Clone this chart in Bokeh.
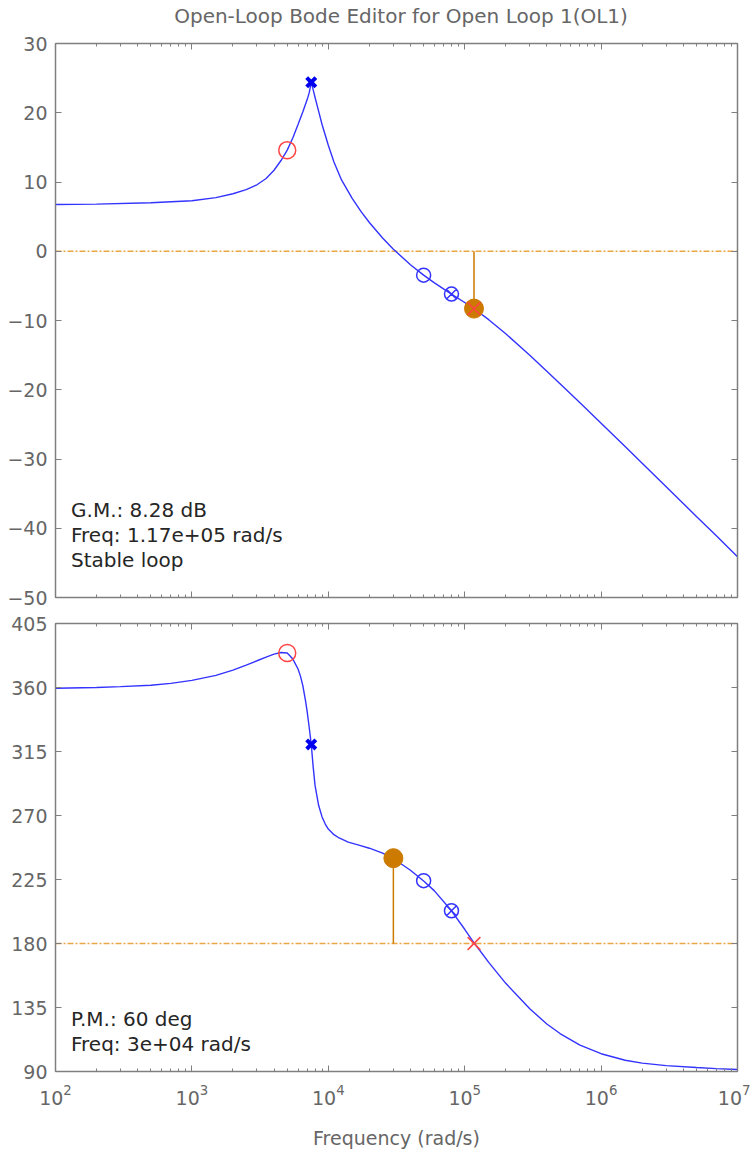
from bokeh.plotting import figure
from bokeh.layouts import column
from bokeh.models import (Range1d, LogAxis, LinearAxis, FixedTicker, LogTicker, Label,
                          CustomJSTickFormatter)
from bokeh.core.properties import value
from bokeh.embed import file_html
from bokeh.resources import INLINE

# ---------------- data ----------------
freq_mag = [1e2, 2e2, 5e2, 1e3, 1.5e3, 2e3, 2.5e3, 3e3, 3.5e3, 4e3, 4.5e3, 5e3, 5.5e3, 6e3, 6.5e3,
            7e3, 7.25e3, 7.5e3, 7.75e3, 8e3, 8.5e3, 9e3, 1e4, 1.1e4, 1.25e4, 1.5e4, 1.75e4, 2e4,
            2.5e4, 3e4, 4e4, 5e4, 6e4, 8e4, 1e5, 1.17e5, 1.5e5, 2e5, 3e5, 4e5, 5e5, 7e5, 1e6, 1.5e6,
            2e6, 3e6, 5e6, 7e6, 1e7]
mag_db = [6.75, 6.8, 7.0, 7.3, 7.75, 8.3, 8.9, 9.6, 10.5, 11.7, 13.1, 14.6, 16.4, 18.3, 20.1,
          21.9, 22.9, 24.4, 23.3, 22.2, 20.2, 18.3, 15.3, 12.9, 10.3, 7.6, 5.66, 4.15,
          1.92, 0.3, -1.95, -3.45, -4.56, -6.19, -7.4, -8.3, -9.88, -11.92, -15.02, -17.32, -19.13,
          -21.89, -24.83, -28.2, -30.6, -34.0, -38.3, -41.1, -44.1]

freq_ph = [1e2, 2e2, 3e2, 5e2, 7e2, 1e3, 1.5e3, 2e3, 2.5e3, 3e3, 3.5e3, 4e3, 4.5e3, 5e3, 5.5e3, 6e3,
           6.25e3, 6.5e3, 6.8e3, 7e3, 7.2e3, 7.5e3, 7.75e3, 8e3, 8.5e3, 9e3, 9.5e3, 1e4, 1.1e4, 1.2e4,
           1.4e4, 1.7e4, 2e4, 2.5e4, 3e4, 4e4, 5e4, 6e4, 8e4, 1e5, 1.17e5, 1.5e5, 2e5, 3e5, 4e5, 5e5,
           7e5, 1e6, 1.5e6, 2e6, 3e6, 5e6, 7e6, 1e7]
phase_deg = [359.5, 360, 360.6, 361.6, 362.9, 365, 368.5, 372.2, 375.8, 378.8, 381.4, 383.5, 384.6,
             384.3, 380, 373, 368, 361.5, 351, 343, 334, 320, 304, 291, 277, 269, 264, 260.5, 256.5,
             254.2, 251.3, 249, 247, 243.5, 239.8, 231.5, 224, 217, 203, 190, 180.5, 166.7, 152,
             134.1, 123.4, 116.7, 108.5, 102.5, 97.9, 95.9, 94.1, 92.8, 92.0, 91.4]

# markers
cz_freq, cz_mag, cz_ph = [5e3], [14.6], [384.2]          # red circles (complex zeros)
cp_freq, cp_mag, cp_ph = [7.5e3], [24.4], [320]           # blue x (complex poles)
rz1_freq, rz1_mag, rz1_ph = [5e4], [-3.45], [224.2]       # blue circle
rz2_freq, rz2_mag, rz2_ph = [8e4], [-6.19], [203]         # blue circle with cross
gm_freq, gm_db = 1.17e5, -8.28
pm_freq, pm_phase = 3e4, 240.0

y1_ticks = [-50, -40, -30, -20, -10, 0, 10, 20, 30]
y2_ticks = [90, 135, 180, 225, 270, 315, 360, 405]

TITLE = "Open-Loop Bode Editor for Open Loop 1(OL1)"

FONT = "DejaVu Sans"
AX_COL = "#7f7f7f"
LBL_COL = "#666666"
BLUE = "#3333ff"
ORANGE = "#cc7a00"
ORANGE_L = "#eaa844"
RED = "#ff4444"

xr = Range1d(1e2, 1e7)


def style_axis(ax, labels=True):
    ax.axis_line_color = AX_COL
    ax.axis_line_width = 1.5
    ax.major_tick_line_color = AX_COL
    ax.minor_tick_line_color = AX_COL
    ax.major_tick_in = 6
    ax.major_tick_out = 0
    ax.minor_tick_in = 3
    ax.minor_tick_out = 0
    ax.major_label_text_font = FONT
    ax.major_label_text_font_size = "19px"
    ax.major_label_text_color = LBL_COL
    if not labels:
        ax.formatter = CustomJSTickFormatter(code="return ''")
        ax.major_label_standoff = 0


def make_fig(yr, yticks, height, top, bottom, xlabels):
    p = figure(width=750, height=height, x_axis_type="log", x_range=xr, y_range=yr,
               output_backend="svg", toolbar_location=None,
               min_border_left=55, min_border_right=13, min_border_top=top, min_border_bottom=bottom,
               x_axis_location=None, y_axis_location=None)
    p.grid.visible = False
    p.outline_line_color = None
    p.background_fill_color = "white"
    bx = LogAxis(ticker=LogTicker(num_minor_ticks=10))
    style_axis(bx, labels=xlabels)
    if xlabels:
        bx.axis_label = "Frequency (rad/s)"
        bx.axis_label_text_font = FONT
        bx.axis_label_text_font_size = "19px"
        bx.axis_label_text_font_style = "normal"
        bx.axis_label_text_color = LBL_COL
        bx.major_label_standoff = 12
        bx.axis_label_standoff = 19
    p.add_layout(bx, "below")
    tx = LogAxis(ticker=LogTicker(num_minor_ticks=10))
    style_axis(tx, labels=False)
    p.add_layout(tx, "above")
    ly = LinearAxis(ticker=FixedTicker(ticks=yticks))
    style_axis(ly)
    ly.minor_tick_in = 0
    ly.major_label_standoff = 8
    p.add_layout(ly, "left")
    ry = LinearAxis(ticker=FixedTicker(ticks=yticks))
    style_axis(ry, labels=False)
    ry.minor_tick_in = 0
    p.add_layout(ry, "right")
    return p


TXT_X = 130.0

# ---------------- title strip ----------------
p0 = figure(width=750, height=30, x_range=Range1d(0, 750), y_range=Range1d(0, 30),
            output_backend="svg", toolbar_location=None, min_border=0,
            x_axis_location=None, y_axis_location=None)
p0.grid.visible = False
p0.outline_line_color = None
p0.text(x=[380], y=[15], text=[TITLE], text_font=value(FONT), text_font_size="20px",
        text_color=LBL_COL, text_align="center", text_baseline="middle")

# ---------------- magnitude ----------------
p1 = make_fig(Range1d(-50, 30), y1_ticks, 577, 13, 10, False)
p1.line([1e2, 1e7], [0, 0], line_color=ORANGE_L, line_width=1.5, line_dash="6 2 2 2")
p1.line([gm_freq, gm_freq], [0, gm_db], line_color=ORANGE, line_width=1.5)
p1.line(freq_mag, mag_db, line_color=BLUE, line_width=1.4)
p1.scatter(cz_freq, cz_mag, marker="circle", size=17, fill_color=None, line_color=RED, line_width=1.5)
p1.scatter(cp_freq, cp_mag, marker="x", size=13, line_color="#0000ee", line_width=4)
p1.scatter(rz1_freq, rz1_mag, marker="circle", size=14, fill_color=None, line_color=BLUE, line_width=1.5)
p1.scatter(rz2_freq, rz2_mag, marker="circle_x", size=14, fill_color=None, line_color=BLUE, line_width=1.5)
p1.scatter([gm_freq], [gm_db], marker="circle", size=19, fill_color=ORANGE, line_color=ORANGE)
p1.scatter([gm_freq], [gm_db], marker="x", size=18, line_color=RED, line_width=1.5)
for txt, yv in [("G.M.: 8.28 dB", -37.4), ("Freq: 1.17e+05 rad/s", -41.0), ("Stable loop", -44.6)]:
    p1.add_layout(Label(x=TXT_X, y=yv, text=txt, text_font=FONT, text_font_size="20px",
                        text_color="#262626", text_baseline="middle"))

# ---------------- phase ----------------
p2 = make_fig(Range1d(90, 405), y2_ticks, 546, 16, 82, True)
p2.line([1e2, 1e7], [180, 180], line_color=ORANGE_L, line_width=1.5, line_dash="6 2 2 2")
p2.line([pm_freq, pm_freq], [180, pm_phase], line_color=ORANGE, line_width=1.5)
p2.line(freq_ph, phase_deg, line_color=BLUE, line_width=1.4)
p2.scatter(cz_freq, cz_ph, marker="circle", size=17, fill_color=None, line_color=RED, line_width=1.5)
p2.scatter(cp_freq, cp_ph, marker="x", size=13, line_color="#0000ee", line_width=4)
p2.scatter(rz1_freq, rz1_ph, marker="circle", size=14, fill_color=None, line_color=BLUE, line_width=1.5)
p2.scatter(rz2_freq, rz2_ph, marker="circle_x", size=14, fill_color=None, line_color=BLUE, line_width=1.5)
p2.scatter([pm_freq], [pm_phase], marker="circle", size=19, fill_color=ORANGE, line_color=ORANGE)
p2.scatter([gm_freq], [180], marker="x", size=18, line_color=RED, line_width=1.5)
for txt, yv in [("P.M.: 60 deg", 127.2), ("Freq: 3e+04 rad/s", 109.6)]:
    p2.add_layout(Label(x=TXT_X, y=yv, text=txt, text_font=FONT, text_font_size="20px",
                        text_color="#262626", text_baseline="middle"))

layout = column(p0, p1, p2, spacing=0)
open("out.html", "w").write(file_html(layout, INLINE))
